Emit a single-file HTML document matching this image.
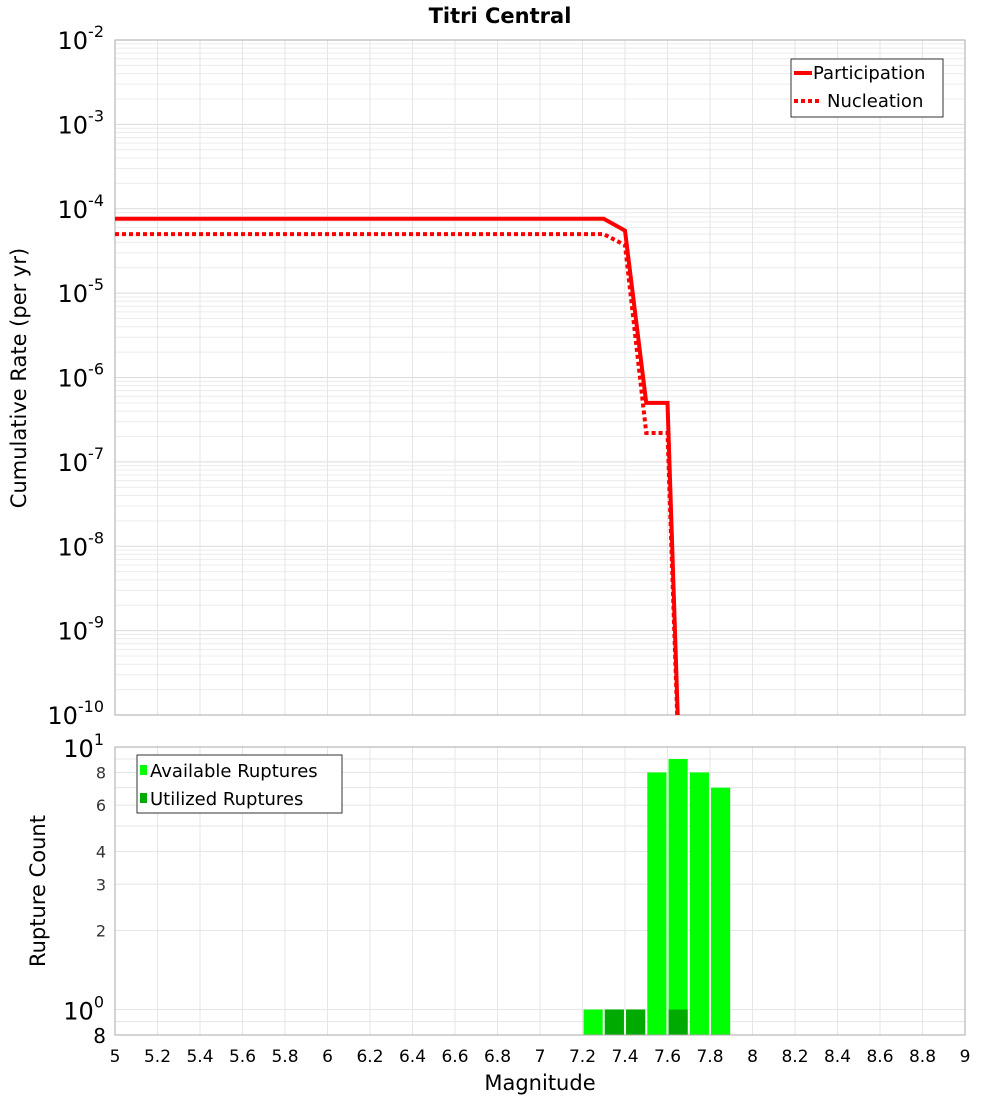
<!DOCTYPE html>
<html><head><meta charset="utf-8"><style>
body{margin:0;background:#fff;font-family:"Liberation Sans","DejaVu Sans",sans-serif}
svg text{font-family:"DejaVu Sans","Liberation Sans",sans-serif}
</style></head><body>
<svg id="chart" width="1000" height="1100" xmlns="http://www.w3.org/2000/svg">
<text x="500" y="23" text-anchor="middle" font-size="21" font-weight="bold">Titri Central</text>
<g id="topg"></g><g id="botg"></g>
</svg>
<script>
const partMags=[5.0,7.3,7.4,7.5,7.6,7.7];
const partRates=[7.6e-5,7.6e-5,5.5e-5,5e-7,5e-7,1e-14];
const nuclMags=[5.0,7.3,7.4,7.5,7.6,7.7];
const nuclRates=[5e-5,5e-5,3.7e-5,2.2e-7,2.2e-7,1e-14];
const binMags=[7.25,7.35,7.45,7.55,7.65,7.75,7.85];
const availCounts=[1,1,1,8,9,8,7];
const usedCounts=[0,1,1,0,1,0,0];
const xTicks=[5,5.2,5.4,5.6,5.8,6,6.2,6.4,6.6,6.8,7,7.2,7.4,7.6,7.8,8,8.2,8.4,8.6,8.8,9];
const topExps=[-2,-3,-4,-5,-6,-7,-8,-9,-10];
const botTicks=[0.8,1,2,3,4,6,8,10];

const NS="http://www.w3.org/2000/svg";
const L=115,R=965,T1=40,B1=715,T2=747,B2=1035;
const X=m=>L+(m-5)/(9-5)*(R-L);
const Y1=v=>T1+(-2-Math.log10(v))/8*(B1-T1);
const Y2=v=>T2+(1-Math.log10(v))/(1-Math.log10(0.8))*(B2-T2);
function mk(p,tag,at,txt){const e=document.createElementNS(NS,tag);for(const k in at)e.setAttribute(k,at[k]);if(txt!==undefined)e.textContent=txt;p.appendChild(e);return e;}
const topG=document.getElementById('topg'),botG=document.getElementById('botg');
const defs=mk(document.getElementById('chart'),'defs',{});
const c1=mk(defs,'clipPath',{id:'c1'});mk(c1,'rect',{x:L,y:T1,width:R-L,height:B1-T1});
for(let e=-10;e<-2;e++)for(let k=1;k<10;k++){const y=Y1(k*Math.pow(10,e));
 const g=mk(topG,'line',{x1:L,x2:R,y1:y,y2:y,stroke:k==1?'#dcdcdc':'#ececec','stroke-width':1});
 
 }
xTicks.forEach(t=>{const g=mk(topG,'line',{x1:X(t),x2:X(t),y1:T1,y2:B1,stroke:'#e6e6e6'});
 
 
 const g2=mk(botG,'line',{x1:X(t),x2:X(t),y1:T2,y2:B2,stroke:'#e6e6e6'});
 
 
 const tl=mk(botG,'text',{x:X(t),y:1062,'text-anchor':'middle','font-size':17},String(t));
 
 });
mk(topG,'rect',{x:L,y:T1,width:R-L,height:B1-T1,fill:'none',stroke:'#aaa'});
topExps.forEach(e=>{const y=Y1(Math.pow(10,e));
 const t=mk(topG,'text',{x:104,y:y+9,'text-anchor':'end','font-size':24});
 
 
 mk(t,'tspan',{},'10');mk(t,'tspan',{dy:-12,'font-size':16},String(e));});
function line(m,r,name,dash){const pts=m.map((v,i)=>X(v)+','+Y1(r[i])).join(' ');
 const p=mk(topG,'polyline',{points:pts,fill:'none',stroke:'#f00','stroke-width':4,'clip-path':'url(#c1)'});
 if(dash)p.setAttribute('stroke-dasharray','4,3');
 
 }
line(nuclMags,nuclRates,'nucleation-line',true);
line(partMags,partRates,'participation-line',false);
const lg=mk(topG,'g',{});


mk(lg,'rect',{x:791,y:59,width:152,height:58,fill:'#fff',stroke:'#333'});
mk(lg,'line',{x1:794,x2:812,y1:73,y2:73,stroke:'#f00','stroke-width':4});
mk(lg,'text',{x:813,y:79,'font-size':18},'Participation');
mk(lg,'line',{x1:794,x2:822,y1:101,y2:101,stroke:'#f00','stroke-width':4,'stroke-dasharray':'4,3'});
mk(lg,'text',{x:827,y:107,'font-size':18},'Nucleation');
const yt=mk(topG,'text',{x:26,y:378,'text-anchor':'middle','font-size':21,transform:'rotate(-90 26 378)'},'Cumulative Rate (per yr)');


for(let v=1;v<=10;v++){const y=Y2(v);mk(botG,'line',{x1:L,x2:R,y1:y,y2:y,stroke:'#e6e6e6'});}
mk(botG,'line',{x1:L,x2:R,y1:Y2(0.9),y2:Y2(0.9),stroke:'#e6e6e6'});
binMags.forEach((m,i)=>{const x=X(m-0.045),w=X(m+0.045)-X(m-0.045);
 const b=mk(botG,'rect',{x:x,y:Y2(availCounts[i]),width:w,height:B2-Y2(availCounts[i]),fill:'#00ff00'});
 
 
 if(usedCounts[i]>0){const u=mk(botG,'rect',{x:x,y:Y2(usedCounts[i]),width:w,height:B2-Y2(usedCounts[i]),fill:'#00aa00'});
 
 }});
mk(botG,'rect',{x:L,y:T2,width:R-L,height:B2-T2,fill:'none',stroke:'#aaa'});
botTicks.forEach(v=>{const y=Y2(v);let t;
 if(v==1||v==10){t=mk(botG,'text',{x:104,y:y+10,'text-anchor':'end','font-size':24});mk(t,'tspan',{},'10');mk(t,'tspan',{dy:-12,'font-size':16},v==1?'0':'1');}
 else if(v==0.8){t=mk(botG,'text',{x:106,y:y+8,'text-anchor':'end','font-size':20},'8');}
 else {t=mk(botG,'text',{x:106,y:y+6,'text-anchor':'end','font-size':16,fill:'#333'},String(v));}
 
 });
const lg2=mk(botG,'g',{});


mk(lg2,'rect',{x:137,y:755,width:205,height:58,fill:'#fff',stroke:'#333'});
mk(lg2,'rect',{x:140,y:765,width:7,height:10,fill:'#00ff00'});
mk(lg2,'text',{x:150,y:777,'font-size':18},'Available Ruptures');
mk(lg2,'rect',{x:140,y:793,width:7,height:10,fill:'#00aa00'});
mk(lg2,'text',{x:150,y:805,'font-size':18},'Utilized Ruptures');
const by=mk(botG,'text',{x:45,y:891,'text-anchor':'middle','font-size':21,transform:'rotate(-90 45 891)'},'Rupture Count');


const xt=mk(botG,'text',{x:540,y:1090,'text-anchor':'middle','font-size':21},'Magnitude');


</script>
</body></html>
